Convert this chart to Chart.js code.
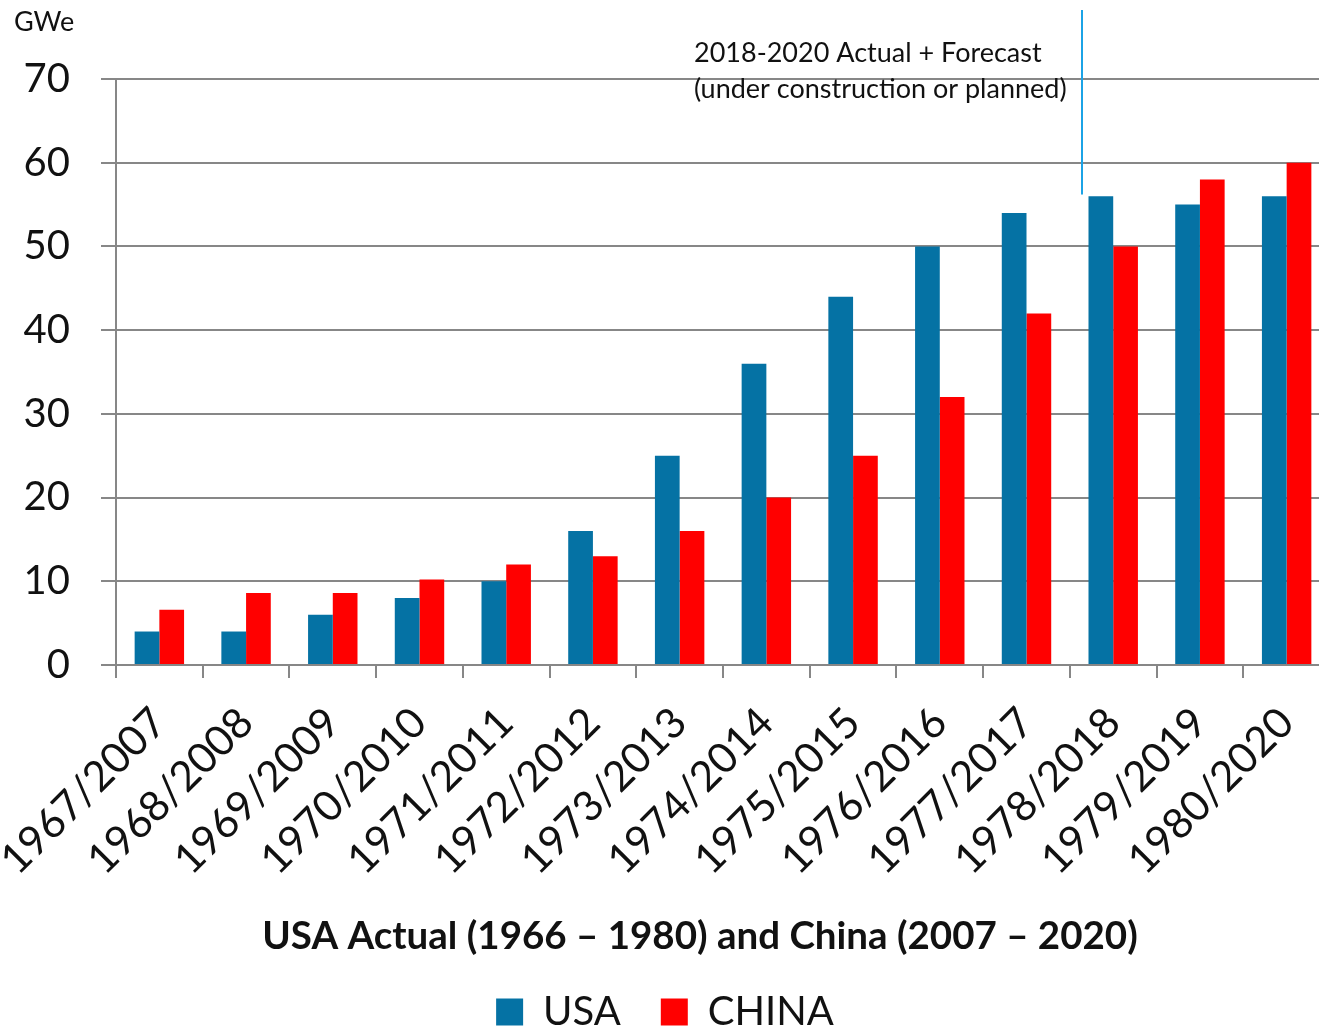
<!DOCTYPE html>
<html>
<head>
<meta charset="utf-8">
<title>USA vs China nuclear capacity build-out</title>
<script src="https://cdn.jsdelivr.net/npm/chart.js@4/dist/chart.umd.min.js"></script>
<style>
  html, body { margin: 0; padding: 0; background: #fff; overflow: hidden; }
  #wrap { width: 1332px; height: 1028px; }
</style>
</head>
<body>
<div id="wrap"><canvas id="c" width="1332" height="1028"></canvas></div>
<script>
// Paired years: USA (1967-1980) alongside China (2007-2020)
const categories = [
  '1967/2007', '1968/2008', '1969/2009', '1970/2010', '1971/2011', '1972/2012', '1973/2013',
  '1974/2014', '1975/2015', '1976/2016', '1977/2017', '1978/2018', '1979/2019', '1980/2020'
];
// Installed nuclear capacity, GWe
const usaValues   = [4, 4, 6, 8, 10, 16, 25, 36, 44, 50, 54, 56, 55, 56];
const chinaValues = [6.6, 8.6, 8.6, 10.2, 12, 13, 16, 20, 25, 32, 42, 50, 58, 60];
const yTicks = [0, 10, 20, 30, 40, 50, 60, 70];

const FONT = 'Lato, "Open Sans", sans-serif';
const GRID = '#878787';

// Marker separating the actual years from the forecast years, plus free text
const forecastDivider = {
  id: 'forecastDivider',
  afterDatasetsDraw(chart) {
    const { ctx, scales: { x, y } } = chart;
    const px = x.getPixelForValue(10.64);
    ctx.save();
    ctx.strokeStyle = '#1ba3e6';
    ctx.lineWidth = 2;
    ctx.beginPath();
    ctx.moveTo(px, 10);
    ctx.lineTo(px, y.getPixelForValue(56.2));
    ctx.stroke();

    ctx.fillStyle = '#111';
    ctx.textBaseline = 'middle';
    ctx.textAlign = 'left';
    ctx.font = '27px ' + FONT;
    ctx.fillText('2018-2020 Actual + Forecast', 694, 53);
    ctx.fillText('(under construction or planned)', 694, 89);

    ctx.font = '27px ' + FONT;
    ctx.fillText('GWe', 14, 22);

    ctx.font = 'bold 38.5px ' + FONT;
    ctx.textAlign = 'center';
    ctx.fillText('USA Actual (1966 \u2013 1980) and China (2007 \u2013 2020)', 700, 937);
    ctx.restore();
  }
};

new Chart(document.getElementById('c'), {
  type: 'bar',
  data: {
    labels: categories,
    datasets: [
      { label: 'USA', data: usaValues, backgroundColor: '#0572a4', borderWidth: 0,
        categoryPercentage: 0.57, barPercentage: 1.0 },
      { label: 'CHINA', data: chinaValues, backgroundColor: '#ff0000', borderWidth: 0,
        categoryPercentage: 0.57, barPercentage: 1.0 }
    ]
  },
  options: {
    responsive: false,
    animation: false,
    layout: { padding: { top: 79, right: 2, left: 0, bottom: -14 } },
    plugins: {
      tooltip: { enabled: false },
      legend: {
        position: 'bottom',
        labels: {
          boxWidth: 27, boxHeight: 27, padding: 40,
          color: '#111',
          font: { family: FONT, size: 40 }
        }
      }
    },
    scales: {
      x: {
        offset: true,
        grid: { display: true, drawOnChartArea: false, drawTicks: true, tickLength: 13,
                color: GRID, lineWidth: 2, offset: true },
        border: { display: false },
        ticks: {
          autoSkip: false, maxRotation: 45, minRotation: 45, padding: 20,
          color: '#111', font: { family: FONT, size: 42 }
        },
        afterFit(scale) {
          scale.height = 287;
          // rotated labels may hang past the plot's left edge
          scale.paddingLeft = 0;
          scale.paddingRight = 0;
        }
      },
      y: {
        min: 0, max: 70,
        afterBuildTicks(scale) { scale.ticks = yTicks.map(v => ({ value: v })); },
        grid: { color: GRID, lineWidth: 2, drawTicks: true, tickLength: 15 },
        border: { display: true, color: GRID, width: 2 },
        ticks: { padding: 31, color: '#111', font: { family: FONT, size: 40 } },
        afterFit(scale) { scale.width = 116; }
      }
    }
  },
  plugins: [forecastDivider]
});
</script>
</body>
</html>
